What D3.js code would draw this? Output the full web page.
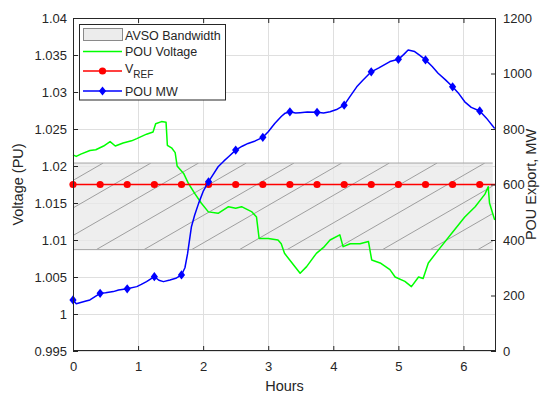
<!DOCTYPE html>
<html>
<head>
<meta charset="utf-8">
<script src="https://cdn.jsdelivr.net/npm/d3@7"></script>
<style>
  body { margin: 0; background: #fff; }
  svg { display: block; font-family: "Liberation Sans", Arial, sans-serif; }
</style>
</head>
<body>
<svg id="chart" width="541" height="393"></svg>
<script>
// ---- data ----
const hourTicks = [0, 1, 2, 3, 4, 5, 6];
const voltTicks = [0.995, 1, 1.005, 1.01, 1.015, 1.02, 1.025, 1.03, 1.035, 1.04];
const mwTicks = [0, 200, 400, 600, 800, 1000, 1200];

// AVSO bandwidth (voltage)
const bandLow = 1.0087;
const bandHigh = 1.0204;
const bandEnd = 6.45;

// POU voltage
const voltHours = [0.00, 0.05, 0.12, 0.26, 0.35, 0.47, 0.57, 0.65, 0.77, 0.90, 0.98, 1.13, 1.23, 1.27, 1.36, 1.43,
  1.45, 1.52, 1.57, 1.60, 1.70, 1.77, 1.87, 1.97, 2.08, 2.23, 2.39, 2.50, 2.59, 2.75, 2.82, 2.86,
  3.00, 3.15, 3.20, 3.25, 3.33, 3.49, 3.59, 3.74, 3.85, 3.95, 4.10, 4.15, 4.26, 4.41, 4.54, 4.59,
  4.72, 4.87, 4.95, 5.10, 5.20, 5.31, 5.38, 5.46, 5.61, 5.82, 6.02, 6.18, 6.33, 6.38, 6.40, 6.48];
const voltValues = [1.0215, 1.0213, 1.0216, 1.0221, 1.0222, 1.0227, 1.0233, 1.0227, 1.0231, 1.0234, 1.0237, 1.0243, 1.0246, 1.0257, 1.0260, 1.0259,
  1.0228, 1.0224, 1.0218, 1.0200, 1.0190, 1.0177, 1.0163, 1.0150, 1.0138, 1.0136, 1.0145, 1.0143, 1.0145, 1.0138, 1.0131, 1.0102,
  1.0102, 1.0100, 1.0095, 1.0082, 1.0073, 1.0055, 1.0064, 1.0082, 1.0090, 1.0100, 1.0107, 1.0091, 1.0095, 1.0095, 1.0098, 1.0073,
  1.0069, 1.0060, 1.0050, 1.0044, 1.0037, 1.0050, 1.0048, 1.0069, 1.0086, 1.0109, 1.0131, 1.0145, 1.0162, 1.0172, 1.0150, 1.0127];

// V_REF
const vref = 1.0175;
const vrefHours = [0, 6.5];
const markerHours = [0, 0.417, 0.833, 1.25, 1.667, 2.083, 2.5, 2.917, 3.333, 3.75, 4.167, 4.583, 5, 5.417, 5.833, 6.25];

// POU MW
const mwHours = [0.00, 0.05, 0.20, 0.26, 0.417, 0.50, 0.62, 0.70, 0.833, 0.98, 1.05, 1.13, 1.25, 1.32, 1.39, 1.49, 1.58,
  1.667, 1.72, 1.76, 1.82, 1.87, 1.93, 2.00, 2.083, 2.15, 2.23, 2.32, 2.39, 2.50, 2.60, 2.69, 2.80, 2.917,
  3.00, 3.10, 3.20, 3.26, 3.333, 3.42, 3.49, 3.60, 3.75, 3.85, 3.95, 4.05, 4.167, 4.25, 4.36, 4.45, 4.583,
  4.70, 4.87, 5.00, 5.08, 5.15, 5.25, 5.33, 5.417, 5.52, 5.61, 5.72, 5.833, 5.92, 6.02, 6.12, 6.25, 6.35, 6.48];
const mwValues = [184, 170, 180, 184, 208, 210, 214, 220, 224, 232, 240, 250, 268, 255, 250, 256, 262,
  274, 300, 350, 448, 490, 532, 575, 610, 635, 664, 685, 700, 724, 738, 748, 757, 770,
  790, 820, 845, 857, 862, 858, 859, 861, 860, 858, 862, 870, 886, 915, 952, 975, 1006,
  1020, 1043, 1051, 1068, 1085, 1079, 1065, 1049, 1025, 1001, 978, 952, 930, 898, 878, 865, 840, 802];
const mwMarkerValues = [184, 208, 224, 268, 274, 610, 724, 770, 862, 860, 886, 1006, 1051, 1049, 952, 865];

// ---- layout ----
const svg = d3.select("#chart");
const pL = 73, pT = 18, pR = 496, pB = 351;
const ink = "#262626";

const x = d3.scaleLinear().domain([0, 6.5]).range([pL, pR]);
const yV = d3.scaleLinear().domain([0.995, 1.04]).range([pB, pT]);
const yMW = d3.scaleLinear().domain([0, 1200]).range([pB, pT]);

// grid
const grid = svg.append("g").attr("stroke", "#dfdfdf").attr("stroke-width", 1);
grid.selectAll(".gx").data(hourTicks).enter().append("line")
  .attr("x1", d => Math.round(x(d)) + 0.5).attr("x2", d => Math.round(x(d)) + 0.5)
  .attr("y1", pT).attr("y2", pB);
grid.selectAll(".gy").data(voltTicks).enter().append("line")
  .attr("y1", d => Math.round(yV(d)) + 0.5).attr("y2", d => Math.round(yV(d)) + 0.5)
  .attr("x1", pL).attr("x2", pR);

// AVSO band with hatch
const bx0 = x(0), bx1 = x(bandEnd), by0 = yV(bandHigh), by1 = yV(bandLow);
svg.append("clipPath").attr("id", "bandClip").append("rect")
  .attr("x", bx0).attr("y", by0).attr("width", bx1 - bx0).attr("height", by1 - by0);
svg.append("rect")
  .attr("x", bx0).attr("y", by0).attr("width", bx1 - bx0).attr("height", by1 - by0)
  .attr("fill", "#e8e8e8").attr("fill-opacity", 0.75);
const run = (by1 - by0) / Math.tan(30 * Math.PI / 180);
const hatchStarts = d3.range(-6, 10).map(k => 96.3 + k * 47.7);
svg.append("g").attr("clip-path", "url(#bandClip)")
  .selectAll("line").data(hatchStarts).enter().append("line")
  .attr("x1", d => d).attr("y1", by1).attr("x2", d => d + run).attr("y2", by0)
  .attr("stroke", "#8a8a8a").attr("stroke-width", 0.8);
svg.append("g").attr("stroke", "#a6a6a6").attr("stroke-width", 1)
  .selectAll("line").data([by0, by1]).enter().append("line")
  .attr("x1", bx0).attr("x2", bx1).attr("y1", d => d).attr("y2", d => d);

// POU voltage
const voltData = voltHours.map((h, i) => [h, voltValues[i]]);
svg.append("path").datum(voltData)
  .attr("d", d3.line().x(d => x(d[0])).y(d => yV(d[1])))
  .attr("fill", "none").attr("stroke", "#00ff00").attr("stroke-width", 1.5)
  .attr("stroke-linejoin", "round");

// V_REF
svg.append("path").datum(vrefHours.map(h => [h, vref]))
  .attr("d", d3.line().x(d => x(d[0])).y(d => yV(d[1])))
  .attr("fill", "none").attr("stroke", "#ff0000").attr("stroke-width", 1.5);
svg.append("g").selectAll("circle").data(markerHours).enter().append("circle")
  .attr("cx", d => x(d)).attr("cy", yV(vref)).attr("r", 3.6).attr("fill", "#ff0000");

// POU MW
const mwData = mwHours.map((h, i) => [h, mwValues[i]]);
svg.append("path").datum(mwData)
  .attr("d", d3.line().x(d => x(d[0])).y(d => yMW(d[1])))
  .attr("fill", "none").attr("stroke", "#0000ff").attr("stroke-width", 1.5)
  .attr("stroke-linejoin", "round");
const diamond = "M0,-4.6L3.6,0L0,4.6L-3.6,0Z";
svg.append("g").selectAll("path").data(markerHours).enter().append("path")
  .attr("d", diamond)
  .attr("transform", (d, i) => `translate(${x(d)},${yMW(mwMarkerValues[i])})`)
  .attr("fill", "#0000ff");

// axes
function styleAxis(g) {
  g.select(".domain").remove();
  g.selectAll("line").attr("stroke", ink);
  g.selectAll("text").attr("fill", ink).attr("font-size", 13);
}
svg.append("g").attr("transform", `translate(${pL},0)`)
  .call(d3.axisLeft(yV).tickValues(voltTicks).tickFormat(d => String(d)).tickSize(-5).tickPadding(6))
  .call(styleAxis);
svg.append("g").attr("transform", `translate(${pR},0)`)
  .call(d3.axisRight(yMW).tickValues(mwTicks).tickFormat(d => String(d)).tickSize(-5).tickPadding(7))
  .call(styleAxis);
svg.append("g").attr("transform", `translate(0,${pB})`)
  .call(d3.axisBottom(x).tickValues(hourTicks).tickFormat(d => String(d)).tickSize(-5).tickPadding(11))
  .call(styleAxis);
svg.append("g").attr("transform", `translate(0,${pT})`)
  .call(d3.axisTop(x).tickValues(hourTicks).tickFormat("").tickSize(-5))
  .call(styleAxis);

// box
svg.append("rect").attr("x", pL + 0.5).attr("y", pT + 0.5)
  .attr("width", pR - pL - 1).attr("height", pB - pT - 1)
  .attr("fill", "none").attr("stroke", ink).attr("stroke-width", 1);

// axis labels
svg.append("text").attr("x", (pL + pR) / 2).attr("y", 391)
  .attr("text-anchor", "middle").attr("font-size", 14.5).attr("fill", ink).text("Hours");
svg.append("text").attr("transform", `translate(23,${(pT + pB) / 2}) rotate(-90)`)
  .attr("text-anchor", "middle").attr("font-size", 14.5).attr("fill", ink).text("Voltage (PU)");
svg.append("text").attr("transform", `translate(536,${(pT + pB) / 2}) rotate(-90)`)
  .attr("text-anchor", "middle").attr("font-size", 14.5).attr("fill", ink).text("POU Export, MW");

// legend
const lg = svg.append("g");
lg.append("rect").attr("x", 79.5).attr("y", 24.5).attr("width", 146).attr("height", 75.5)
  .attr("fill", "#fff").attr("stroke", ink).attr("stroke-width", 1);
lg.append("rect").attr("x", 83.5).attr("y", 28.5).attr("width", 39).attr("height", 12)
  .attr("fill", "#ececec").attr("stroke", "#8a8a8a").attr("stroke-width", 1);
const legendRows = [
  { y: 51.5, color: "#00ff00", marker: null },
  { y: 71, color: "#ff0000", marker: "circle" },
  { y: 91, color: "#0000ff", marker: "diamond" }
];
legendRows.forEach(r => {
  lg.append("line").attr("x1", 83).attr("x2", 122).attr("y1", r.y).attr("y2", r.y)
    .attr("stroke", r.color).attr("stroke-width", 1.5);
  if (r.marker === "circle") {
    lg.append("circle").attr("cx", 102.5).attr("cy", r.y).attr("r", 3.6).attr("fill", r.color);
  } else if (r.marker === "diamond") {
    lg.append("path").attr("d", diamond).attr("transform", `translate(102.5,${r.y})`).attr("fill", r.color);
  }
});
const legText = lg.append("g").attr("fill", ink).attr("font-size", 12.5);
legText.append("text").attr("x", 125).attr("y", 39.5).text("AVSO Bandwidth");
legText.append("text").attr("x", 125).attr("y", 56).text("POU Voltage");
const vt = legText.append("text").attr("x", 125).attr("y", 73);
vt.append("tspan").text("V");
vt.append("tspan").attr("dy", 5).attr("font-size", 10).text("REF");
legText.append("text").attr("x", 125).attr("y", 95.5).text("POU MW");
</script>
</body>
</html>
